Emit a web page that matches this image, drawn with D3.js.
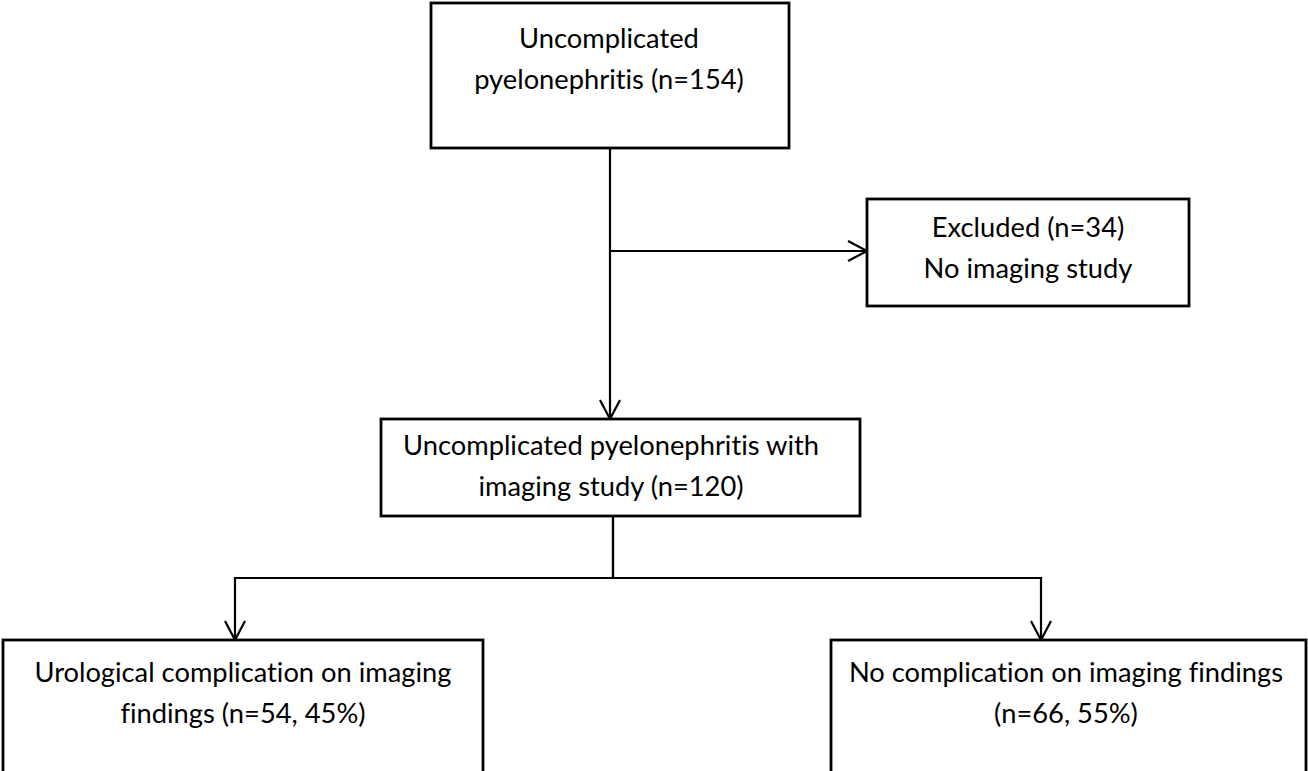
<!DOCTYPE html>
<html>
<head>
<meta charset="utf-8">
<script src="https://cdn.jsdelivr.net/npm/d3@7"></script>
<style>
  body { margin: 0; background: #fff; }
  svg { display: block; }
  text { font-variant-ligatures: none; font-feature-settings: "liga" 0; }
</style>
</head>
<body>
<svg id="chart" width="1308" height="771"></svg>
<script>
// flow chart boxes: id + text lines
var boxIds = ["start", "excluded", "imaging", "complication", "noComplication"];
var boxLines = [
    ["Uncomplicated", "pyelonephritis (n=154)"],
    ["Excluded (n=34)", "No imaging study"],
    ["Uncomplicated pyelonephritis with", "imaging study (n=120)"],
    ["Urological complication on imaging", "findings (n=54, 45%)"],
    ["No complication on imaging findings", "(n=66, 55%)"]
];
var links = [
    ["start", "imaging"],
    ["start", "excluded"],
    ["imaging", "complication"],
    ["imaging", "noComplication"]
];

// layout of the boxes on the page (pixels)
var layout = {
    start:          {x: 431, y: 3,   w: 358, h: 145, tx: 609,  ty: 48},
    excluded:       {x: 867, y: 199, w: 322, h: 107, tx: 1028, ty: 237},
    imaging:        {x: 381, y: 419, w: 479, h: 97,  tx: 611,  ty: 455},
    complication:   {x: 3,   y: 640, w: 480, h: 200, tx: 243,  ty: 682},
    noComplication: {x: 831, y: 640, w: 475, h: 200, tx: 1066, ty: 682}
};
var LINE_H = 40.5;
var trunkX = 610, branchY = 251, splitY = 578;
var leftArrowX = 235, rightArrowX = 1041;

var svg = d3.select('#chart');

svg.append('defs').append('marker')
    .attr('id', 'arrow')
    .attr('markerUnits', 'userSpaceOnUse')
    .attr('viewBox', '-22 -12 24 24')
    .attr('markerWidth', 24)
    .attr('markerHeight', 24)
    .attr('refX', 0)
    .attr('refY', 0)
    .attr('orient', 'auto')
    .append('path')
    .attr('d', 'M-19,-10L0,0L-19,10')
    .attr('fill', 'none')
    .attr('stroke', 'black')
    .attr('stroke-width', 2.2)

var boxes = boxIds.map(function(id, i) {
    return Object.assign({id: id, lines: boxLines[i]}, layout[id]);
});
var byId = {};
boxes.forEach(function(b) { byId[b.id] = b; });

// connectors
var connectors = [];
links.forEach(function(l) {
    var s = byId[l[0]], t = byId[l[1]];
    if (l[0] == "start" && l[1] == "imaging") {
        connectors.push({pts: [[trunkX, s.y + s.h], [trunkX, t.y]], arrow: true});
    } else if (l[1] == "excluded") {
        connectors.push({pts: [[trunkX, branchY], [t.x, branchY]], arrow: true});
    } else {
        var ax = l[1] == "complication" ? leftArrowX : rightArrowX;
        connectors.push({pts: [[613, s.y + s.h], [613, splitY], [ax, splitY], [ax, t.y]], arrow: true});
    }
});

var line = d3.line();
svg.append('g')
    .selectAll('path')
    .data(connectors)
    .enter().append('path')
    .attr('d', d => line(d.pts))
    .attr('fill', 'none')
    .attr('stroke', 'black')
    .attr('stroke-width', 2.2)
    .attr('marker-end', d => d.arrow ? 'url(#arrow)' : null)

var g = svg.append('g')
    .selectAll('g')
    .data(boxes)
    .enter().append('g')

g.append('rect')
    .attr('x', d => d.x)
    .attr('y', d => d.y)
    .attr('width', d => d.w)
    .attr('height', d => d.h)
    .attr('fill', 'white')
    .attr('stroke', 'black')
    .attr('stroke-width', 2.8)

g.each(function(d) {
    var sel = d3.select(this);
    d.lines.forEach(function(t, i) {
        sel.append('text')
            .attr('x', d.tx)
            .attr('y', d.ty + i * LINE_H)
            .attr('text-anchor', 'middle')
            .attr('font-family', 'Lato, "Open Sans", sans-serif')
            .attr('font-size', 27.3)
            .attr('fill', 'black')
            .text(t)
    })
})
</script>
</body>
</html>
